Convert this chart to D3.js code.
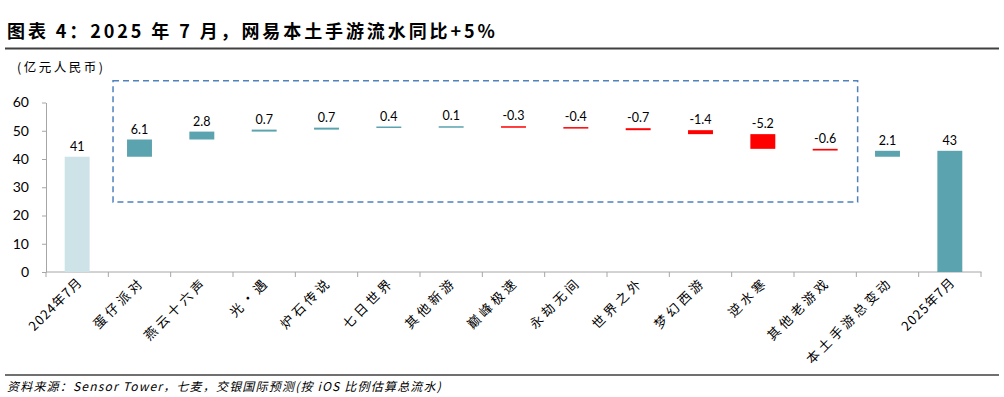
<!DOCTYPE html>
<html><head><meta charset="utf-8">
<script src="https://cdn.jsdelivr.net/npm/d3@7"></script>
<style>
html,body{margin:0;padding:0;background:#fff;}
svg{display:block;}
</style></head>
<body>
<script>
const categories = ["2024年7月","蛋仔派对","燕云十六声","光·遇","炉石传说","七日世界","其他新游","巅峰极速","永劫无间","世界之外","梦幻西游","逆水寒","其他老游戏","本土手游总变动","2025年7月"];
const startValue = 40.8;
const deltas = [6.1, 2.8, 0.7, 0.7, 0.4, 0.1, -0.3, -0.4, -0.7, -1.4, -5.2, -0.6];
const totalChange = 2.1;
const endValue = 42.9;
const yTicks = [0,10,20,30,40,50,60];

const W = 1004, H = 397;
const svg = d3.select("body").append("svg").attr("width", W).attr("height", H);

const x = d3.scaleBand().domain(categories).range([46, 981]).paddingInner(0.6).paddingOuter(0.3);
const y = d3.scaleLinear().domain([0, 60]).range([272, 102.5]);

// build waterfall rows
const rows = [];
rows.push({cat: categories[0], lo: 0, hi: startValue, label: d3.format(".0f")(startValue), fill: "#CDE3E7"});
let cum = startValue;
deltas.forEach((d, i) => {
  const a = cum, b = cum + d;
  rows.push({cat: categories[i+1], lo: Math.min(a,b), hi: Math.max(a,b), label: d.toFixed(1), fill: d >= 0 ? "#5BA3AE" : "#FF0000"});
  cum = b;
});
rows.push({cat: categories[13], lo: startValue, hi: startValue + totalChange, label: totalChange.toFixed(1), fill: "#5BA3AE"});
rows.push({cat: categories[14], lo: 0, hi: endValue, label: d3.format(".0f")(endValue), fill: "#5BA3AE"});

// title
svg.append("text").attr("x", 7).attr("y", 38)
  .attr("font-family", "'Noto Sans CJK SC'").attr("font-weight", 700).attr("font-size", 18)
  .attr("letter-spacing", 2.9).attr("fill", "#000")
  .text("图表 4：2025 年 7 月，网易本土手游流水同比+5%");
svg.append("line").attr("x1", 5).attr("x2", 999).attr("y1", 48.5).attr("y2", 48.5)
  .attr("stroke", "#404040").attr("stroke-width", 2);

// unit
svg.append("text").attr("x", 17).attr("y", 72)
  .attr("font-family", "'Noto Sans CJK SC'").attr("font-size", 12.5).attr("letter-spacing", 2.5).attr("fill", "#000")
  .text("(亿元人民币)");

// y axis
const ya = svg.append("g").attr("transform", "translate(46,0)")
  .call(d3.axisLeft(y).tickValues(yTicks).tickSize(4).tickSizeOuter(0).tickPadding(13));
ya.select(".domain").attr("stroke", "#A6A6A6");
ya.selectAll(".tick line").attr("stroke", "#A6A6A6");
ya.selectAll(".tick text").attr("font-family", "Lato, 'Open Sans', sans-serif").attr("font-size", 14).attr("fill", "#000");

// x axis (boundary ticks)
const xa = svg.append("g").attr("transform", "translate(0,272)");
xa.append("line").attr("x1", 46).attr("x2", 981.5).attr("stroke", "#A6A6A6");
const step = x.step();
const x0 = x.range()[0];
const bounds = d3.range(categories.length + 1).map(i => x0 + i*step);
xa.selectAll("line.tk").data(bounds).join("line").attr("class","tk")
  .attr("x1", d => d).attr("x2", d => d).attr("y1", 0).attr("y2", 5).attr("stroke", "#A6A6A6");

// x labels rotated
svg.append("g").selectAll("text").data(categories).join("text")
  .attr("transform", d => `translate(${x(d) + x.bandwidth()/2 + 6},${283}) rotate(-45)`)
  .attr("text-anchor", "end")
  .attr("font-family", "'Noto Sans CJK SC'").attr("font-size", 13)
  .attr("letter-spacing", d => /\d/.test(d) ? 1 : 3.5)
  .attr("fill", "#000")
  .text(d => d);

// bars
svg.append("g").selectAll("rect").data(rows).join("rect")
  .attr("x", d => x(d.cat)).attr("width", x.bandwidth())
  .attr("y", d => y(d.hi)).attr("height", d => Math.max(1.5, y(d.lo) - y(d.hi)))
  .attr("fill", d => d.fill);

// value labels
svg.append("g").selectAll("text").data(rows).join("text")
  .attr("x", d => x(d.cat) + x.bandwidth()/2).attr("y", d => y(d.hi) - 6)
  .attr("text-anchor", "middle")
  .attr("font-family", "Lato, 'Open Sans', sans-serif").attr("font-size", 12.5).attr("fill", "#000")
  .text(d => d.label);

// dashed annotation box around item contributions
const boxLeft = x(categories[1]) - 14, boxRight = x(categories[12]) + x.bandwidth() + 20;
svg.append("rect").attr("x", boxLeft).attr("y", y(67.7)).attr("width", boxRight - boxLeft)
  .attr("height", y(24.8) - y(67.7)).attr("fill", "none")
  .attr("stroke", "#4F81BD").attr("stroke-width", 1.5).attr("stroke-dasharray", "6,4");

// footer
svg.append("line").attr("x1", 5).attr("x2", 999).attr("y1", 375).attr("y2", 375)
  .attr("stroke", "#404040").attr("stroke-width", 1.5);
svg.append("text").attr("x", 7).attr("y", 391)
  .attr("font-family", "'Noto Sans CJK SC'").attr("font-style", "italic").attr("font-size", 12)
  .attr("letter-spacing", 1.2).attr("fill", "#000")
  .text("资料来源：Sensor Tower，七麦，交银国际预测(按 iOS 比例估算总流水)");
</script>
</body></html>
